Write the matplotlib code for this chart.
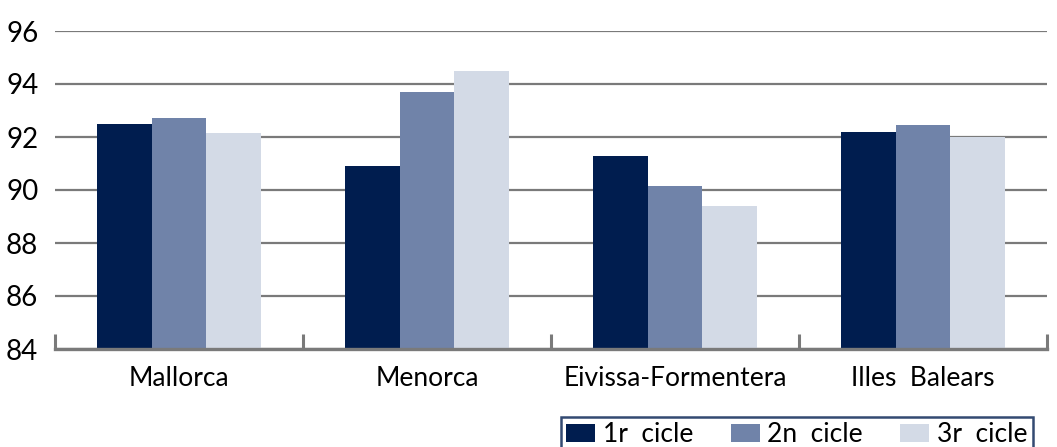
import matplotlib.pyplot as plt
import numpy as np

# data
regions = ['Mallorca', 'Menorca', 'Eivissa-Formentera', 'Illes  Balears']
cicle_1 = [92.5, 90.9, 91.3, 92.2]
cicle_2 = [92.7, 93.7, 90.15, 92.45]
cicle_3 = [92.15, 94.5, 89.4, 92.0]
series_names = ['1r  cicle', '2n  cicle', '3r  cicle']
colors = ['#001d4f', '#7083a9', '#d3dae6']
grid_gray = '#7a7a7a'

plt.rcParams['font.family'] = ['Lato', 'DejaVu Sans']

fig = plt.figure(figsize=(10.57, 4.47), dpi=100)
ax = fig.add_axes([55 / 1057, 1 - 349 / 447, (1047 - 55) / 1057, (349 - 31) / 447])

x = np.arange(len(regions))
w = 0.22
for i, vals in enumerate([cicle_1, cicle_2, cicle_3]):
    ax.bar(x + (i - 1) * w, vals, width=w, color=colors[i], label=series_names[i], zorder=3)

ax.set_xlim(-0.5, 3.5)
ax.set_ylim(84, 96)
ax.set_yticks(range(84, 97, 2))
ax.yaxis.grid(True, color=grid_gray, linewidth=1.6, zorder=0)
ax.tick_params(axis='y', length=0, pad=12, labelsize=20)

# category boundaries as ticks, labels in between
ax.set_xticks(np.arange(-0.5, 4, 1))
ax.set_xticklabels([])
ax.set_xticks(x, minor=True)
ax.set_xticklabels(regions, minor=True)
ax.tick_params(axis='x', which='major', direction='in', length=11, width=2.2, color=grid_gray)
ax.tick_params(axis='x', which='minor', length=0, pad=12, labelsize=19)

for s in ['left', 'right', 'top']:
    ax.spines[s].set_visible(False)
ax.spines['bottom'].set_color(grid_gray)
ax.spines['bottom'].set_linewidth(2.4)
ax.spines['bottom'].set_zorder(4)

leg = fig.legend(loc='upper left', bbox_to_anchor=(561 / 1057, 1 - 417 / 447), ncol=3,
                 fontsize=19, frameon=True, fancybox=False, edgecolor='#001d4f',
                 handlelength=1.1, handleheight=0.7, handletextpad=0.3,
                 columnspacing=1.4, borderpad=0.2, borderaxespad=0)
leg.get_frame().set_linewidth(1.8)

fig.savefig('out.png', dpi=100)
